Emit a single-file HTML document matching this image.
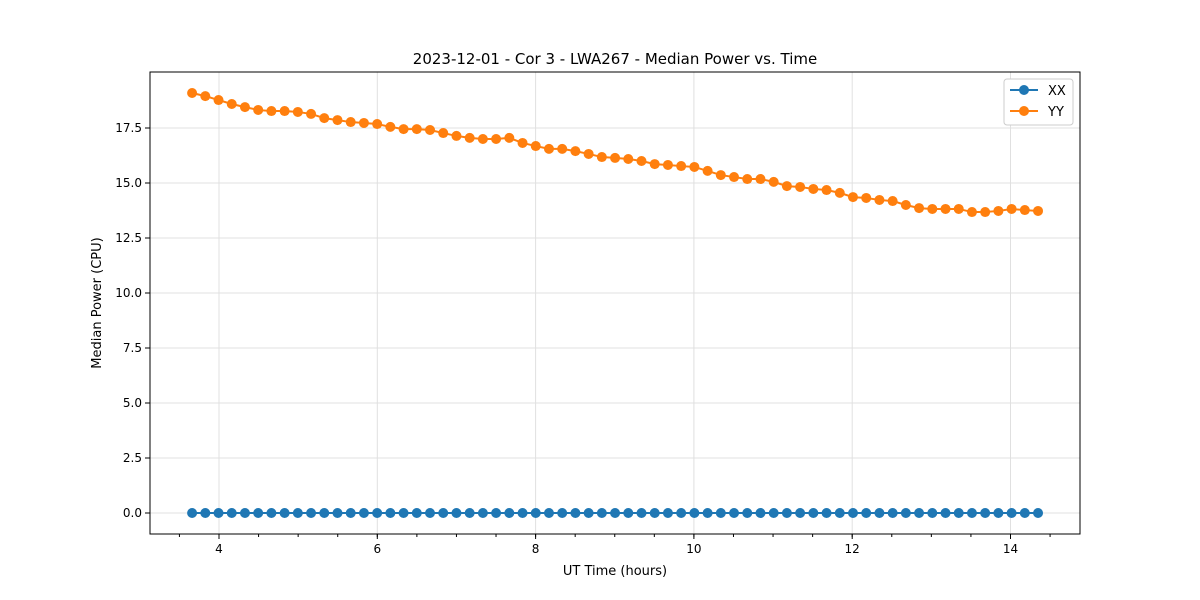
<!DOCTYPE html>
<html><head><meta charset="utf-8"><style>
body{margin:0;background:#fff;}
svg{display:block;font-family:"DejaVu Sans","Liberation Sans",sans-serif;}
</style></head><body>
<svg id="chart" width="1200" height="600">
<rect x="0" y="0" width="1200" height="600" fill="#fff"/>
<text x="615" y="64" text-anchor="middle" font-size="15">2023-12-01 - Cor 3 - LWA267 - Median Power vs. Time</text>
<text x="615" y="575" text-anchor="middle" font-size="13">UT Time (hours)</text>
<text transform="translate(101,303) rotate(-90)" text-anchor="middle" font-size="13">Median Power (CPU)</text>
<g id="grid"></g><g id="series"></g><g id="axes"></g>
<g>
<rect x="1004" y="79" width="69" height="46" rx="3" fill="#fff" stroke="#ccc"/>
<g><line x1="1010" y1="90" x2="1038" y2="90" stroke="#1f77b4" stroke-width="2"/><circle cx="1024" cy="90" r="5" fill="#1f77b4"/><text x="1048" y="95" font-size="13">XX</text></g>
<g><line x1="1010" y1="111" x2="1038" y2="111" stroke="#ff7f0e" stroke-width="2"/><circle cx="1024" cy="111" r="5" fill="#ff7f0e"/><text x="1048" y="116" font-size="13">YY</text></g>
</g>
</svg>
<script>
const startHour = 3.66;
const stepHour = 0.167;
const yyValues = [19.09,18.95,18.77,18.59,18.45,18.32,18.27,18.27,18.23,18.14,17.95,17.86,17.77,17.73,17.68,17.55,17.45,17.45,17.41,17.27,17.14,17.05,17.0,17.0,17.05,16.82,16.68,16.55,16.55,16.45,16.32,16.18,16.14,16.09,16.0,15.86,15.82,15.77,15.73,15.55,15.36,15.27,15.18,15.18,15.05,14.86,14.82,14.73,14.68,14.55,14.36,14.32,14.23,14.18,14.0,13.86,13.82,13.82,13.82,13.68,13.68,13.73,13.82,13.77,13.73];
const xxValues = yyValues.map(()=>0);
const xTicks = [4,6,8,10,12,14];
const yTicks = [0,2.5,5,7.5,10,12.5,15,17.5];
const yTickLabels = ["0.0","2.5","5.0","7.5","10.0","12.5","15.0","17.5"];

const L=150,R=1080,T=72,B=534;
const xs = h => 219 + (h-4)*79.15;
const ys = v => 513 - v*22;
const NS="http://www.w3.org/2000/svg";
function mk(tag,attrs,parent){const e=document.createElementNS(NS,tag);for(const k in attrs)e.setAttribute(k,attrs[k]);parent.appendChild(e);return e;}
const grid=document.getElementById('grid'),axes=document.getElementById('axes'),series=document.getElementById('series');
xTicks.forEach(t=>{
  const g=mk('line',{x1:xs(t),x2:xs(t),y1:T,y2:B,stroke:'#e0e0e0','stroke-width':1},grid);
  
  
  mk('line',{x1:xs(t),x2:xs(t),y1:B,y2:B+5,stroke:'#000'},axes);
  const tx=mk('text',{x:xs(t),y:B+19,'text-anchor':'middle','font-size':12},axes);
  tx.textContent=t;
  
  
});
for(let m=3.5;m<=14.75;m+=0.5){ if(xs(m)>L&&xs(m)<R) mk('line',{x1:xs(m),x2:xs(m),y1:B,y2:B+3,stroke:'#000'},axes);}
yTicks.forEach((t,i)=>{
  const g=mk('line',{x1:L,x2:R,y1:ys(t),y2:ys(t),stroke:'#e0e0e0','stroke-width':1},grid);
  
  
  mk('line',{x1:L-5,x2:L,y1:ys(t),y2:ys(t),stroke:'#000'},axes);
  const tx=mk('text',{x:L-8,y:ys(t)+4,'text-anchor':'end','font-size':12},axes);
  tx.textContent=yTickLabels[i];
  
  
});
const frame=mk('rect',{x:L,y:T,width:R-L,height:B-T,fill:'none',stroke:'#000'},axes);


function drawSeries(vals,color,name){
  const pts=vals.map((v,i)=>[xs(startHour+i*stepHour),ys(v)]);
  const pl=mk('polyline',{points:pts.map(p=>p.join(',')).join(' '),fill:'none',stroke:color,'stroke-width':2},series);
  
  
  pts.forEach(p=>{
    const c=mk('circle',{cx:p[0],cy:p[1],r:5,fill:color},series);
    
    
  });
}
drawSeries(xxValues,'#1f77b4','xx');
drawSeries(yyValues,'#ff7f0e','yy');
</script>
</body></html>
